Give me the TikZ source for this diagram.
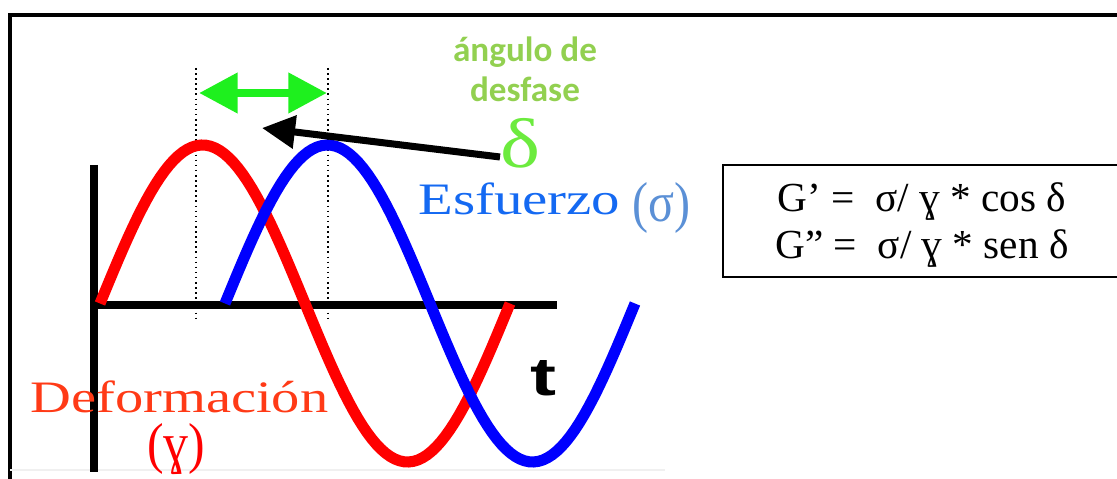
\documentclass[tikz,border=0pt]{standalone}
\usepackage{fontspec}
\setmainfont{Liberation Serif}
\setsansfont{Liberation Sans}
\newfontfamily\calfont{Carlito}
\usepackage{graphicx}
\usetikzlibrary{arrows.meta}
\definecolor{waveRed}{HTML}{FF0000}
\definecolor{waveBlue}{HTML}{0000FF}
\definecolor{labelRed}{HTML}{FF3A16}
\definecolor{labelBlue}{HTML}{1469F2}
\definecolor{sigmaBlue}{HTML}{5B90D6}
\definecolor{desfaseGreen}{HTML}{92D050}
\definecolor{deltaGreen}{HTML}{6CEB3E}
\definecolor{arrowGreen}{HTML}{1EF01E}
\newlength\pxu
\setlength\pxu{0.02cm}

\begin{document}
\begin{tikzpicture}[x=0.02cm, y=-0.02cm,
    wave/.style={line width=6.3pt},
    axis/.style={line width=4.4pt},
    guide/.style={line width=0.9pt, dotted},
    bigtext/.style={anchor=base west, inner sep=0pt, font=\fontsize{25.6}{30}\selectfont}]
  \useasboundingbox (0,0) rectangle (1117,479);
  % frame
  \draw[line width=2.3pt] (10,479) -- (10,15) -- (1117,15);
  \draw[gray!12, line width=0.8pt] (10,470) -- (665,470);

  % axes
  \coordinate (origin) at (94,305);
  \draw[axis] (94,165) -- (94,472);
  \draw[axis] (origin) -- (557,305);

  % guides at the two peaks
  \draw[guide] (196,68) -- (196,320);
  \draw[guide] (328,68) -- (328,320);

  % strain and stress
  \draw[wave, waveRed] plot[domain=100:510, samples=90] (\x, {303.5-158.5*sin(0.87805*(\x-100))});
  \draw[wave, waveBlue] plot[domain=225:635, samples=90] (\x, {303.5-158.5*sin(0.87805*(\x-225))});

  % phase angle
  \coordinate (lagL) at (199,93);
  \coordinate (lagR) at (327,93);
  \draw[arrowGreen, line width=4.8pt, {Triangle[length=22pt,width=22pt]}-{Triangle[length=22pt,width=22pt]}] (lagL) -- (lagR);
  \node[font=\calfont\bfseries\fontsize{20}{22.8}\selectfont, text=desfaseGreen, align=center, inner sep=0pt, anchor=base] (desfase) at (525,102) {ángulo de\\desfase};
  \node[anchor=base west, inner sep=0pt, text=deltaGreen, font=\fontsize{40}{44}\selectfont] (delta) at (500,168) {\resizebox{40\pxu}{\height}{δ}};
  \coordinate (tail) at (500,157);
  \coordinate (tip) at (262,128);
  \draw[line width=4pt, -{Triangle[length=18.8pt,width=18.2pt]}] (tail) -- (tip);

  % labels
  \node[bigtext, text=labelBlue] (esfuerzo) at (418,215) {\resizebox{202\pxu}{\height}{Esfuerzo}};
  \node[bigtext, text=sigmaBlue, font=\fontsize{32}{36}\selectfont] (sigmaL) at (632,222) {\resizebox{58\pxu}{\height}{(σ)}};
  \node[bigtext, text=labelRed] (deformacion) at (30,413) {\resizebox{298\pxu}{\height}{Deformación}};
  \node[bigtext, text=waveRed, font=\fontsize{32}{36}\selectfont] (gammaL) at (147,463) {\resizebox{58\pxu}{\height}{(ɣ)}};
  \node[anchor=base west, inner sep=0pt] (tlabel) at (530,396) {\resizebox{26\pxu}{35\pxu}{\sffamily\bfseries t}};

  % moduli
  \draw[line width=1.2pt] (1125,165) -- (723,165) -- (723,277) -- (1125,277);
  \node[anchor=base, inner sep=0pt, font=\fontsize{23.5}{26}\selectfont] (gprime) at (922,212) {G’ =~ σ/ ɣ * cos δ};
  \node[anchor=base, inner sep=0pt, font=\fontsize{23.5}{26}\selectfont] (gdprime) at (922,259) {G” =~ σ/ ɣ * sen δ};
\end{tikzpicture}
\end{document}
